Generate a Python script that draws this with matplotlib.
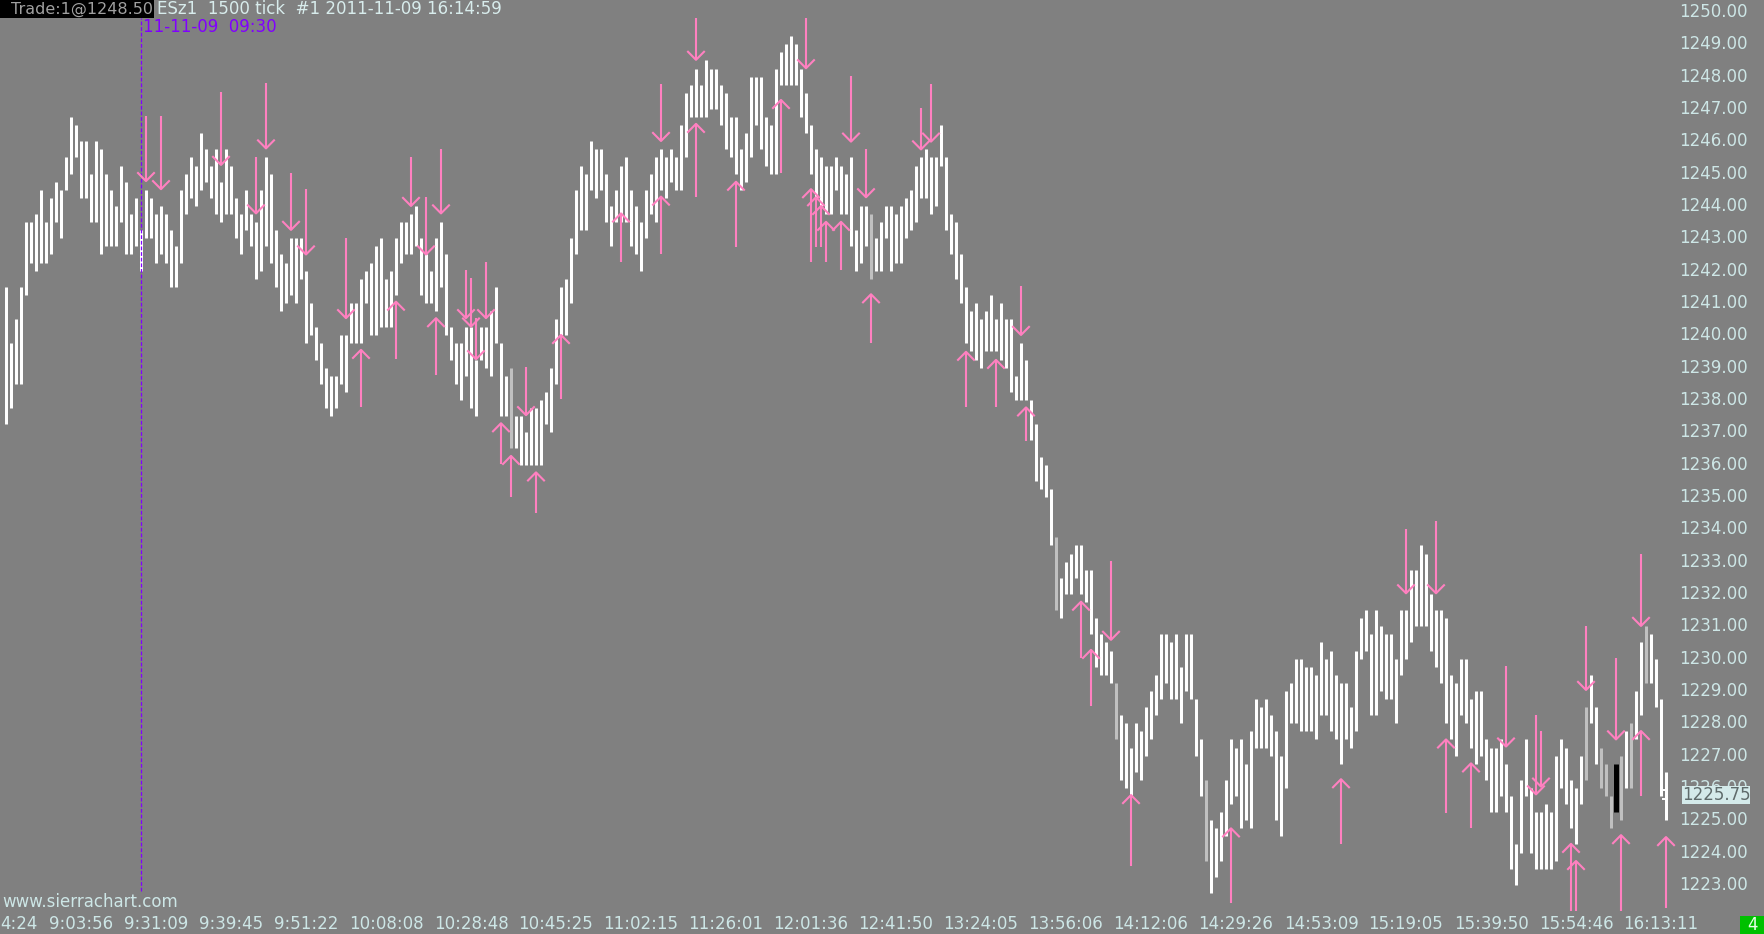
import matplotlib
matplotlib.use('Agg')
import matplotlib.pyplot as plt
import matplotlib.transforms as mtransforms
from matplotlib.patches import Rectangle

#-----------------------------------------------------------------------------
# ESz1 1500 tick bars, 2011-11-09 : high / low of every bar, left to right

highs = [1241.5, 1239.75, 1240.5, 1241.5, 1243.5, 1243.5, 1243.75, 1244.5, 1243.5, 1244.25,
         1244.75, 1244.5, 1245.5, 1246.75, 1246.5, 1246, 1246, 1245, 1246, 1245.75,
         1245, 1244.5, 1244, 1245.25, 1244.75, 1243.75, 1244.25, 1243.25, 1244.5, 1244.25,
         1243.75, 1244, 1243.75, 1243.25, 1242.75, 1244.5, 1245, 1245.5, 1245.25, 1246.25,
         1245.75, 1245.25, 1245.75, 1244.75, 1245.75, 1245.25, 1244.25, 1243.75, 1244.5, 1243.75,
         1243.5, 1244.5, 1245.5, 1245, 1243.25, 1242.5, 1242.25, 1243, 1243, 1243,
         1242, 1241, 1240.25, 1239.75, 1239, 1238.75, 1238.75, 1240, 1240, 1241,
         1241, 1241.75, 1242, 1242.25, 1242.75, 1243, 1241.75, 1242, 1243, 1243.5,
         1243.5, 1243.75, 1244, 1243, 1242.5, 1242, 1243, 1243.5, 1242.5, 1240.25,
         1239.75, 1239.75, 1240.25, 1240.25, 1239.25, 1240.25, 1240.25, 1240.75, 1241.5, 1239.75,
         1238.75, 1239, 1237.5, 1237.5, 1237, 1237.75, 1237.75, 1238, 1238.25, 1239,
         1240.5, 1241.5, 1241.75, 1243, 1244.5, 1245.25, 1245, 1246, 1245.75, 1245.75,
         1245, 1244, 1244.5, 1245.25, 1245.5, 1244.5, 1244, 1243.5, 1244.5, 1245,
         1245.5, 1245.75, 1245.5, 1245.75, 1245.5, 1246.5, 1247.5, 1247.75, 1248.25, 1247.75,
         1248.5, 1248.25, 1248.25, 1247.75, 1247.5, 1246.75, 1246.75, 1245.75, 1246.25, 1248,
         1248, 1248, 1246.75, 1246.5, 1248.25, 1248.75, 1249, 1249.25, 1249, 1248.25,
         1247.5, 1246.5, 1245.75, 1245.5, 1245.25, 1245.25, 1245.5, 1245.25, 1245, 1245.5,
         1243.25, 1244, 1244, 1243.75, 1243, 1243.5, 1244, 1244, 1243.75, 1244,
         1244.25, 1244.5, 1245.25, 1245.5, 1245.75, 1245.5, 1245.5, 1246.5, 1245.5, 1243.75,
         1243.5, 1242.5, 1241.5, 1240.75, 1241, 1240.5, 1240.75, 1241.25, 1240.5, 1241,
         1240.5, 1240.5, 1238.75, 1239.75, 1239.25, 1238, 1237.25, 1236.25, 1236, 1235.25,
         1233.75, 1232.5, 1233, 1233.25, 1233.5, 1233.5, 1232.75, 1232.75, 1231.25, 1230.75,
         1230.5, 1230.25, 1229.25, 1228.25, 1228, 1227.25, 1228, 1227.75, 1228.5, 1229,
         1229.5, 1230.75, 1230.75, 1230.5, 1230.75, 1229.75, 1230.75, 1230.75, 1228.75, 1227.5,
         1226.25, 1225, 1224.75, 1225.25, 1226.25, 1227.5, 1227.25, 1227.5, 1226.75, 1227.75,
         1228.75, 1228.5, 1228.75, 1228.25, 1227.75, 1227, 1229, 1229.25, 1230, 1230,
         1229.75, 1229.75, 1229.5, 1230.5, 1230, 1230.25, 1229.5, 1229.25, 1229.25, 1228.5,
         1230.25, 1231.25, 1231.5, 1230.75, 1231.5, 1231, 1230.75, 1230.75, 1230, 1231.5,
         1231.5, 1232.75, 1232.75, 1233.5, 1233.25, 1232, 1231.5, 1231.5, 1231.25, 1229.5,
         1229.25, 1230, 1230, 1228.75, 1229, 1229, 1227.5, 1227.25, 1227.25, 1227.5,
         1226.75, 1225.75, 1224.25, 1226.25, 1227.5, 1226, 1225.25, 1225.25, 1225.5, 1225.25,
         1227, 1227.5, 1227.25, 1226.25, 1226, 1227, 1228.5, 1229.5, 1228.5, 1227.25,
         1226.75, 1225.75, 1226.75, 1227, 1227.75, 1228, 1229, 1230.5, 1231, 1230.75,
         1230, 1228.75, 1226.5]

lows = [1237.25, 1237.75, 1238.5, 1238.5, 1241.25, 1242.25, 1242, 1242.25, 1242.25, 1242.5,
        1243.5, 1243, 1244.5, 1245, 1245.5, 1244.25, 1244.25, 1243.5, 1243.5, 1242.5,
        1242.75, 1242.75, 1242.75, 1243.5, 1242.5, 1242.5, 1242.75, 1242, 1243, 1243,
        1242.25, 1242.5, 1242.25, 1241.5, 1241.5, 1242.25, 1243.75, 1244.25, 1244, 1244.5,
        1244.75, 1244.25, 1243.75, 1243.5, 1243.75, 1243.75, 1243, 1242.5, 1243.25, 1242.75,
        1241.75, 1242, 1242.75, 1242.25, 1241.5, 1240.75, 1241, 1241.25, 1241, 1241.75,
        1239.75, 1240, 1239.25, 1238.5, 1237.75, 1237.5, 1237.75, 1238.5, 1238.25, 1239.75,
        1239.75, 1239.75, 1241, 1240, 1240, 1240.25, 1240.25, 1240.25, 1241.25, 1242.25,
        1242.5, 1242.5, 1242.75, 1241.25, 1241, 1241, 1240.75, 1241.5, 1240, 1239.25,
        1238.5, 1238, 1238.75, 1237.75, 1237.5, 1239.25, 1239, 1238.75, 1239.75, 1237.5,
        1237.5, 1236.5, 1236.5, 1236, 1236, 1236, 1236, 1236, 1237.25, 1237,
        1238.5, 1240, 1240, 1241, 1242.5, 1243.25, 1243.25, 1244.5, 1244.25, 1244.5,
        1243.5, 1242.75, 1243.5, 1243.5, 1243.5, 1242.75, 1242.5, 1242, 1243, 1243.75,
        1243.5, 1244.5, 1244.25, 1244.75, 1244.5, 1244.5, 1245.5, 1246.75, 1246.75, 1246.75,
        1246.75, 1247, 1247, 1246.5, 1245.75, 1245.5, 1245, 1244.5, 1244.75, 1245.5,
        1246.5, 1245.75, 1245.25, 1245, 1245, 1247.75, 1247.75, 1247.75, 1247.75, 1246.75,
        1246.25, 1245, 1244.25, 1244, 1243.75, 1243.75, 1244.5, 1243.75, 1243.75, 1242.75,
        1242, 1242.25, 1242.75, 1241.75, 1242, 1242, 1243, 1242, 1242.25, 1242.25,
        1243, 1243.25, 1243.5, 1244.25, 1244.25, 1243.75, 1244, 1245.25, 1243.25, 1242.5,
        1241.75, 1241, 1239.75, 1239.5, 1239.25, 1239, 1239.5, 1239.5, 1239.5, 1239.25,
        1239, 1238.25, 1238, 1238, 1238, 1236.75, 1235.5, 1235.25, 1235, 1233.5,
        1231.5, 1231.25, 1232, 1232, 1232.5, 1232, 1231.75, 1230.75, 1229.75, 1229.5,
        1229.5, 1229.25, 1227.5, 1226.25, 1226, 1225.75, 1226.5, 1226.25, 1227, 1227.5,
        1228.25, 1228.75, 1229.25, 1228.75, 1228.75, 1228, 1229, 1228.75, 1227, 1225.75,
        1223.75, 1222.75, 1223.25, 1223.75, 1224.5, 1225.5, 1225.75, 1224.75, 1225, 1224.75,
        1227.25, 1227.25, 1227.25, 1227, 1225, 1224.5, 1226, 1228, 1228, 1227.75,
        1227.75, 1227.75, 1227.5, 1228.25, 1228.25, 1227.75, 1227.5, 1226.75, 1227.5, 1227.25,
        1227.75, 1230, 1230.25, 1228.25, 1228.25, 1229, 1228.75, 1228.75, 1228, 1229.5,
        1230, 1230.5, 1231, 1231, 1231, 1230.25, 1229.75, 1229.25, 1228, 1227.5,
        1227, 1228.25, 1228, 1227.25, 1226.75, 1227, 1226.25, 1225.25, 1225.25, 1225.75,
        1225.25, 1223.5, 1223, 1224, 1225.75, 1224, 1223.5, 1223.5, 1223.5, 1223.5,
        1223.75, 1226, 1225.5, 1224.75, 1224.25, 1225.5, 1226.25, 1228, 1226.75, 1226,
        1225.75, 1224.75, 1225.25, 1225, 1226, 1226, 1227.5, 1228.25, 1229.25, 1229.25,
        1228.5, 1225.75, 1225]

gray_bars = [101, 173, 210, 222, 240, 316, 319, 320, 321, 323, 325, 328]
black_bar = 322

# pink signal arrows (bar number, tip price, tail price)
down_bars = [28, 31, 43, 50, 52, 57, 60, 68, 81, 84, 87, 92, 93, 94, 96, 104, 131,
             138, 160, 169, 172, 183, 185, 203, 221, 280, 286, 300, 306, 307, 316, 322, 327]
down_tip = [1244.77, 1244.52, 1245.27, 1243.77, 1245.78, 1243.26, 1242.5, 1240.53, 1244.0,
            1242.5, 1243.77, 1240.53, 1240.27, 1239.26, 1240.53, 1237.53, 1246.01, 1248.52,
            1248.26, 1245.99, 1244.27, 1245.75, 1245.99, 1240.01, 1230.58, 1232.02, 1232.02,
            1227.28, 1225.8, 1226.04, 1229.03, 1227.5, 1231.01]
down_tail = [1246.78, 1246.78, 1247.53, 1245.5, 1247.8, 1245.01, 1244.52, 1243.02, 1245.5,
             1244.27, 1245.75, 1242.02, 1241.76, 1240.53, 1242.26, 1239.03, 1247.77, 1249.8,
             1249.8, 1248.02, 1245.75, 1247.02, 1247.77, 1241.52, 1233.02, 1234.0, 1234.26,
             1229.77, 1228.26, 1227.76, 1231.01, 1230.01, 1233.25]

up_bars = [71, 78, 86, 99, 101, 106, 111, 123, 131, 138, 146, 155, 161, 162, 163, 164, 167,
           173, 192, 198, 204, 215, 217, 225, 245, 267, 288, 293, 313, 314, 323, 327, 332]
up_tip = [1239.55, 1241.04, 1240.53, 1237.28, 1236.27, 1235.76, 1240.01, 1243.77, 1244.29,
          1246.54, 1244.75, 1247.28, 1244.52, 1244.27, 1244.0, 1243.51, 1243.51, 1241.27,
          1239.49, 1239.24, 1237.77, 1231.76, 1230.27, 1225.78, 1224.75, 1226.27, 1227.5,
          1226.76, 1224.27, 1223.74, 1224.54, 1227.76, 1224.48]
up_tail = [1237.77, 1239.26, 1238.77, 1236.01, 1235.01, 1234.5, 1238.02, 1242.26, 1242.5,
           1244.27, 1242.74, 1245.01, 1242.26, 1242.74, 1242.74, 1242.26, 1242.02, 1239.75,
           1237.77, 1237.77, 1236.74, 1230.02, 1228.52, 1223.59, 1222.44, 1224.26, 1225.23,
           1224.75, 1222.2, 1222.2, 1222.2, 1225.75, 1222.29]

# time scale
time_pos = [15, 30, 45, 60, 76, 93, 110, 127, 144, 161, 178, 195, 212, 229, 246, 263,
            280, 297, 314, 331]
time_labels = ['9:03:56', '9:31:09', '9:39:45', '9:51:22', '10:08:08', '10:28:48',
               '10:45:25', '11:02:15', '11:26:01', '12:01:36', '12:41:50', '13:24:05',
               '13:56:06', '14:12:06', '14:29:26', '14:53:09', '15:19:05', '15:39:50',
               '15:54:46', '16:13:11']
price_ticks = list(range(1223, 1251))
last_price = 1225.75
session_bar = 27

#-----------------------------------------------------------------------------

W, H = 1764, 934
BG = '#808080'
PINK = '#ff80c0'
LBL = '#cde6e6'
PURPLE = '#8000ff'
FS = 12

fig = plt.figure(figsize=(W/100, H/100), dpi=100, facecolor=BG)
ax = fig.add_axes([0, 0, 1, 1])
ax.set_xlim(-6/5, (W-6)/5)               # 5 px per bar
ax.set_ylim(1250 - 922/32.33, 1250 + 12/32.33)  # 32.33 px per point
ax.axis('off')

def fx(px):
    return px / W

def fy(py):
    return 1 - py / H

xfig_ydata = mtransforms.blended_transform_factory(fig.transFigure, ax.transData)
xdata_yfig = mtransforms.blended_transform_factory(ax.transData, fig.transFigure)

#-----------------------------------------------------------------------------
'''bars'''
n = len(highs)
colors = ['white'] * n
for i in gray_bars:
    colors[i] = '#c0c0c0'
idx = [i for i in range(n) if i != black_bar]
ax.vlines(idx, [lows[i] for i in idx], [highs[i] for i in idx],
          colors=[colors[i] for i in idx], linewidth=2.16, capstyle='butt', zorder=2)
ax.vlines(black_bar, lows[black_bar], highs[black_bar], colors='black',
          linewidth=3.6, capstyle='butt', zorder=2)

# session start line
ax.axvline(session_bar, ymin=1 - 891/H, ymax=1 - 18/H, color=PURPLE, lw=0.9,
           linestyle=(0, (3, 1.5)), zorder=3)

#-----------------------------------------------------------------------------
'''arrows'''
dx, dy = 1.6, 0.25
for b, tip, tail in zip(down_bars, down_tip, down_tail):
    ax.plot([b, b], [tail, tip], color=PINK, lw=1.5, zorder=4, solid_capstyle='butt')
    ax.plot([b - dx, b, b + dx], [tip + dy, tip, tip + dy], color=PINK, lw=1.5, zorder=4)
for b, tip, tail in zip(up_bars, up_tip, up_tail):
    ax.plot([b, b], [tail, tip], color=PINK, lw=1.5, zorder=4, solid_capstyle='butt')
    ax.plot([b - dx, b, b + dx], [tip - dy, tip, tip - dy], color=PINK, lw=1.5, zorder=4)

#-----------------------------------------------------------------------------
'''price scale, time scale'''
for p in price_ticks:
    ax.text(fx(1748), p, '%.2f' % p, transform=xfig_ydata, ha='right', va='center',
            color=LBL, fontsize=FS)

for pos, lab in zip(time_pos, time_labels):
    ax.text(pos, fy(924), lab, transform=xdata_yfig, ha='center', va='center',
            color=LBL, fontsize=FS)
fig.text(fx(0), fy(924), '4:24', ha='left', va='center', color=LBL, fontsize=FS)
fig.text(fx(2), fy(902), 'www.sierrachart.com', ha='left', va='center', color=LBL, fontsize=FS)

# last price marker (covers part of the 1226.00 label, as on the chart)
fig.add_artist(Rectangle((fx(1682), fy(804)), fx(68), 18/H, transform=fig.transFigure,
                         facecolor='#d4eaea', edgecolor='none', zorder=5))
fig.text(fx(1716), fy(795), '%.2f' % last_price, ha='center', va='center',
         color='#5f6b6b', fontsize=FS, zorder=6)
ax.plot([331.2, 332.2], [1225.95, 1225.95], color='white', lw=1.4, solid_capstyle='butt')
ax.plot([331.2, 332.2], [1225.65, 1225.65], color='white', lw=1.4, solid_capstyle='butt')

# bar counter box
fig.add_artist(Rectangle((fx(1740), 0), fx(24), 18/H, transform=fig.transFigure,
                         facecolor='#00c000', edgecolor='none', zorder=5))
fig.text(fx(1752), fy(925), '4', ha='center', va='center', color='#e8ffe8',
         fontsize=FS, zorder=6)

#-----------------------------------------------------------------------------
'''header'''
fig.add_artist(Rectangle((0, fy(18)), fx(154), 18/H, transform=fig.transFigure,
                         facecolor='black', edgecolor='none', zorder=5))
fig.text(fx(11), fy(9), 'Trade:1@1248.50', ha='left', va='center', color='#a0a0a0',
         fontsize=11.5, zorder=6)
fig.text(fx(157), fy(9), 'ESz1  1500 tick  #1 2011-11-09 16:14:59', ha='left',
         va='center', color='#d8ecec', fontsize=FS, zorder=6)
fig.text(fx(143), fy(27), '11-11-09  09:30', ha='left', va='center', color=PURPLE,
         fontsize=FS, zorder=6)

fig.savefig('out.png', dpi=100, facecolor=BG)
